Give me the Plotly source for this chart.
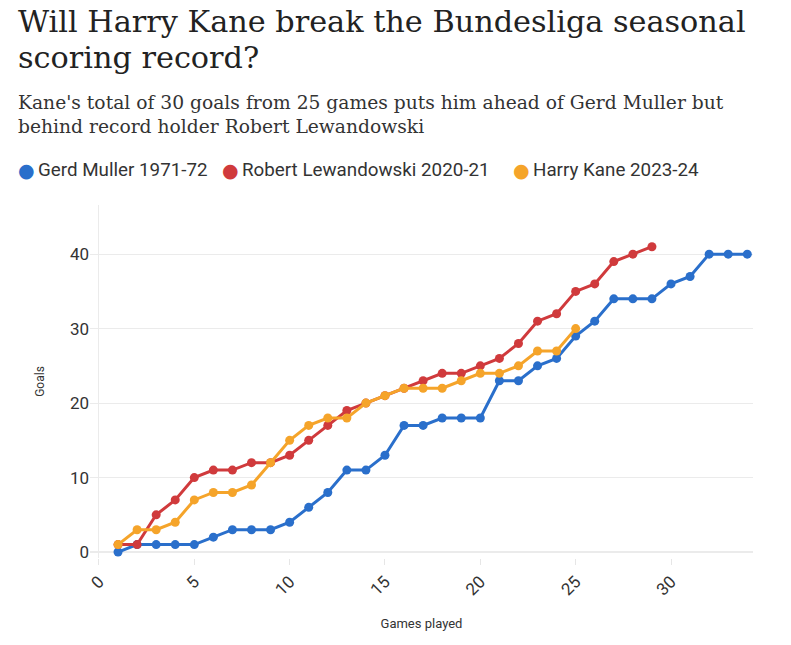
import plotly.graph_objects as go

games_muller = list(range(1, 35))
goals_muller = [0, 1, 1, 1, 1, 2, 3, 3, 3, 4, 6, 8, 11, 11, 13, 17, 17, 18, 18, 18,
                23, 23, 25, 26, 29, 31, 34, 34, 34, 36, 37, 40, 40, 40]

games_lewa = list(range(1, 30))
goals_lewa = [1, 1, 5, 7, 10, 11, 11, 12, 12, 13, 15, 17, 19, 20, 21, 22, 23, 24, 24, 25,
              26, 28, 31, 32, 35, 36, 39, 40, 41]

games_kane = list(range(1, 26))
goals_kane = [1, 3, 3, 4, 7, 8, 8, 9, 12, 15, 17, 18, 18, 20, 21, 22, 22, 22, 23, 24,
              24, 25, 27, 27, 30]

series_names = ["Gerd Muller 1971-72", "Robert Lewandowski 2020-21", "Harry Kane 2023-24"]
series_colors = ["#2a6fcb", "#d03a3c", "#f5a42a"]

title_lines = ["Will Harry Kane break the Bundesliga seasonal", "scoring record?"]
subtitle_text = ("Kane's total of 30 goals from 25 games puts him ahead of Gerd Muller but<br>"
                 "behind record holder Robert Lewandowski")
x_title = "Games played"
y_title = "Goals"

# The page body adds an 8px offset; work in page pixels and convert.
OFF = 8
W, H = 791, 645
PL, PR, PT, PB = 90, 753, 205, 558          # plot area in page pixels
L, T = PL - OFF, PT - OFF
R, B = W - (PR - OFF), H - (PB - OFF)
PW, PH = PR - PL, PB - PT


def px_x(px):
    return (px - PL) / PW


def px_y(py):
    return 1 + (PT - py) / PH


fig = go.Figure()
for xs, ys, name, col in zip([games_muller, games_lewa, games_kane],
                             [goals_muller, goals_lewa, goals_kane],
                             series_names, series_colors):
    fig.add_trace(go.Scatter(x=xs, y=ys, name=name, mode="lines+markers",
                             line=dict(color=col, width=3),
                             marker=dict(color=col, size=9),
                             showlegend=False))

fig.update_layout(
    width=W, height=H,
    margin=dict(l=L, r=R, t=T, b=B),
    paper_bgcolor="white", plot_bgcolor="white",
    font=dict(family="Roboto, sans-serif", color="#333333"),
    showlegend=False,
)

for line, cy in zip(title_lines, [22, 58]):
    fig.add_annotation(text=line, xref="paper", yref="paper", showarrow=False,
                       x=px_x(16), y=px_y(cy), xanchor="left", yanchor="middle",
                       align="left",
                       font=dict(family="DejaVu Serif, serif", size=30.3, color="#222222"))

fig.add_annotation(text=subtitle_text, xref="paper", yref="paper", showarrow=False,
                   x=px_x(16), y=px_y(115), xanchor="left", yanchor="middle",
                   align="left",
                   font=dict(family="DejaVu Serif, serif", size=18.7, color="#333333"))

legend_dot_x = [26, 230, 521]
for name, col, px in zip(series_names, series_colors, legend_dot_x):
    fig.add_annotation(text="●", xref="paper", yref="paper", showarrow=False,
                       x=px_x(px), y=px_y(170), xanchor="center", yanchor="middle",
                       font=dict(family="DejaVu Sans", size=19, color=col))
    fig.add_annotation(text=name, xref="paper", yref="paper", showarrow=False,
                       x=px_x(px + 10), y=px_y(170), xanchor="left", yanchor="middle",
                       font=dict(family="Roboto", size=18.8, color="#333333"))

fig.update_xaxes(range=[-0.47, 34.3], tickmode="linear", tick0=0, dtick=5,
                 tickangle=-45, showgrid=False, zeroline=True, zerolinecolor="#ebebeb",
                 zerolinewidth=1, ticks="outside", ticklen=6, tickcolor="#e6e6e6",
                 showline=False, automargin=False,
                 tickfont=dict(size=17, color="#333333"),
                 title=dict(text=x_title, font=dict(size=13, color="#333333"), standoff=20))
fig.update_yaxes(range=[-0.8, 46.6], tickmode="array", tickvals=[0, 10, 20, 30, 40],
                 showgrid=True, gridcolor="#ebebeb", zeroline=True, zerolinecolor="#ebebeb",
                 showline=False, ticks="", automargin=False,
                 tickfont=dict(size=17, color="#333333"),
                 title=dict(text=y_title, font=dict(size=12, color="#333333"), standoff=22))

fig.write_html("out.html")
